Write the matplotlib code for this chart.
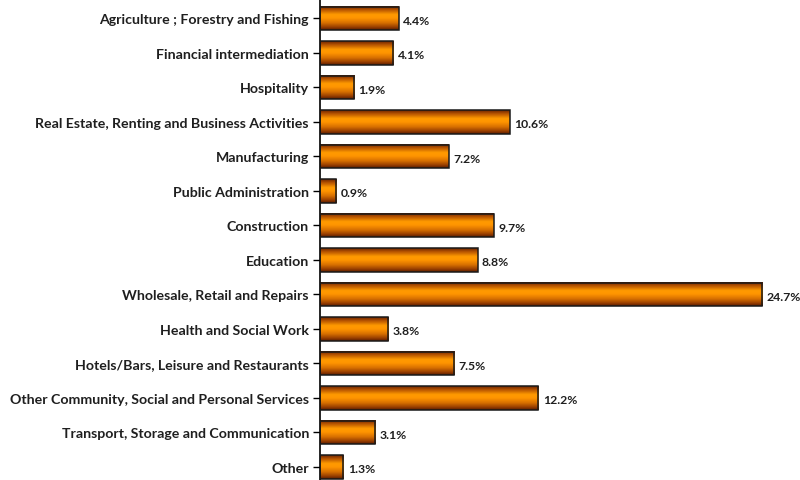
import numpy as np
import matplotlib.pyplot as plt
from matplotlib.colors import LinearSegmentedColormap

# Dados do gráfico
sectors = ['Agriculture ; Forestry and Fishing', 'Financial intermediation', 'Hospitality',
           'Real Estate, Renting and Business Activities', 'Manufacturing',
           'Public Administration', 'Construction', 'Education',
           'Wholesale, Retail and Repairs', 'Health and Social Work',
           'Hotels/Bars, Leisure and Restaurants',
           'Other Community, Social and Personal Services',
           'Transport, Storage and Communication', 'Other']
shares = [4.4, 4.1, 1.9, 10.6, 7.2, 0.9, 9.7, 8.8, 24.7, 3.8, 7.5, 12.2, 3.1, 1.3]

plt.rcParams['font.family'] = ['Lato', 'DejaVu Sans']

fig = plt.figure(figsize=(8, 4.81), dpi=100)
ax = fig.add_axes([0.4, 0.0, 0.6, 1.0])

# Gradiente vertical (efeito cilíndrico)
cmap = LinearSegmentedColormap.from_list('orange_cyl', [
    (0.0, '#6e2400'), (0.15, '#b85500'), (0.35, '#ff9a00'),
    (0.5, '#ff9500'), (0.7, '#d87000'), (0.88, '#9a4000'), (1.0, '#5a1c00')])
grad = np.linspace(0, 1, 64).reshape(-1, 1)

h = 0.67
ypos = np.arange(len(sectors))
for y, v in zip(ypos, shares):
    ax.imshow(grad, cmap=cmap, aspect='auto', extent=(0, v, y + h / 2, y - h / 2),
              zorder=2, interpolation='bilinear')
    ax.add_patch(plt.Rectangle((0, y - h / 2), v, h, fill=False,
                               edgecolor='#1a1a1a', lw=1.1, zorder=3))
    ax.text(v + 0.25, y + 0.05, f'{v}%', va='center', ha='left',
            fontsize=8.8, fontweight='bold', color='#1f1f1f')

ax.set_xlim(0, 480 / 17.9)
ax.set_ylim(13.377, -0.565)
ax.set_yticks(ypos)
ax.set_yticklabels(sectors, fontsize=10.2, fontweight='bold', color='#1f1f1f')
ax.tick_params(axis='y', length=5, width=1, pad=3)
ax.set_xticks([])
for s in ['top', 'right', 'bottom']:
    ax.spines[s].set_visible(False)
ax.spines['left'].set_linewidth(1.2)

plt.savefig('out.png', dpi=100)
